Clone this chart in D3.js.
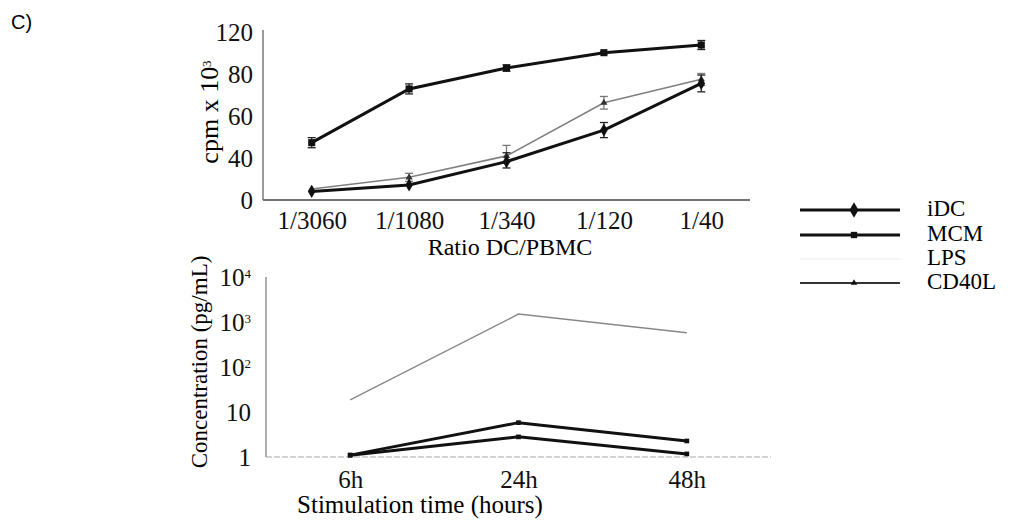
<!DOCTYPE html>
<html>
<head>
<meta charset="utf-8">
<script src="https://cdn.jsdelivr.net/npm/d3@7"></script>
<style>
	body { margin: 0; background: #fff; }
	svg { display: block; font-family: 'Liberation Serif', 'Times New Roman', serif; }
	.tick text { font-family: 'Liberation Serif', 'Times New Roman', serif; font-size: 25px; fill: #111; }
</style>
</head>
<body>
<div id="chart"></div>
<script>
/* global d3 */

// proliferation (top panel)
var ratioLabels = ['1/3060', '1/1080', '1/340', '1/120', '1/40'];
var cpmTicks = [0, 40, 60, 80, 120];
var cpmMCM = [47.3, 72.9, 85.7, 100.3, 107.6];
var cpmMCMErr = [2.4, 2.4, 3, 1, 4.3];
var cpmIDC = [8.1, 14.3, 36.5, 53.3, 75.5];
var cpmIDCErr = [0, 0, 6, 3.6, 4];
var cpmCD40L = [10.5, 21.6, 41, 66.3, 77.5];
var cpmCD40LErr = [0, 3.8, 5, 3, 3];

// cytokine (bottom panel)
var timeLabels = ['6h', '24h', '48h'];
var concTicks = [1, 10, 100, 1000, 10000];
var concCD40L = [18.5, 1500, 577];
var concMCM = [1.1, 5.8, 2.27];
var concIDC = [1.1, 2.8, 1.17];

var legendLabels = ['iDC', 'MCM', 'LPS', 'CD40L'];

(function () {
	'use strict';

	var styles = {
		iDC:   {stroke: '#111', width: 3, marker: d3.symbolDiamond, size: 50},
		MCM:   {stroke: '#111', width: 3, marker: d3.symbolSquare, size: 50},
		LPS:   {stroke: '#f2f2f2', width: 1.5, marker: null, size: 0},
		CD40L: {stroke: '#808080', width: 1.6, marker: d3.symbolTriangle, size: 22}
	};

	var svg = d3.select('#chart').append('svg')
		.attr('width', 1015)
		.attr('height', 524);

	svg.append('text')
		.attr('x', 11).attr('y', 29)
		.style('font-family', "'Liberation Sans', Arial, sans-serif")
		.style('font-size', '20px')
		.text('C)');

	// superscript helper for tick labels / titles
	function powerLabel (sel, base, exp) {
		sel.text(null);
		sel.append('tspan').text(base);
		sel.append('tspan')
			.attr('dy', '-0.55em')
			.style('font-size', '13px')
			.text(exp);
	}

	// ---------- top panel ----------
	var top = {left: 263, right: 750, bottom: 200, step: 42};

	var x1 = d3.scalePoint().domain(ratioLabels).range([top.left, top.right]).padding(0.5);
	var y1 = d3.scaleLinear()
		.domain(cpmTicks)
		.range(cpmTicks.map(function (d, i) { return top.bottom - i * top.step; }));

	var g1 = svg.append('g');

	g1.append('g')
		.attr('transform', 'translate(0,' + top.bottom + ')')
		.call(d3.axisBottom(x1).tickSize(0).tickPadding(11))
		.call(function (a) { a.select('.domain').attr('stroke', '#444').attr('stroke-width', 1.3).attr('d', 'M' + top.left + ',0H' + top.right); });

	g1.append('g')
		.attr('transform', 'translate(' + top.left + ',0)')
		.call(d3.axisLeft(y1).tickValues(cpmTicks).tickSize(0).tickPadding(10))
		.call(function (a) { a.select('.domain').attr('stroke', '#666').attr('stroke-width', 1.3).attr('d', 'M0,' + top.bottom + 'V30'); });

	var cpmSeries = [
		{name: 'CD40L', values: cpmCD40L, err: cpmCD40LErr},
		{name: 'iDC', values: cpmIDC, err: cpmIDCErr},
		{name: 'MCM', values: cpmMCM, err: cpmMCMErr}
	];

	var line1 = d3.line()
		.x(function (d, i) { return x1(ratioLabels[i]); })
		.y(function (d) { return y1(d); });

	cpmSeries.forEach(function (s) {
		var st = styles[s.name];
		var sg = g1.append('g').attr('class', 'series');

		sg.append('path')
			.attr('d', line1(s.values))
			.attr('fill', 'none')
			.attr('stroke', st.stroke)
			.attr('stroke-width', st.width);

		var eb = sg.selectAll('.err')
			.data(s.values.map(function (v, i) { return {x: ratioLabels[i], v: v, e: s.err[i]}; })
				.filter(function (d) { return d.e > 0; }))
			.enter().append('g')
				.attr('class', 'err')
				.attr('stroke', s.name === 'CD40L' ? '#777' : '#222')
				.attr('stroke-width', 1.3);
		eb.append('line')
			.attr('x1', function (d) { return x1(d.x); })
			.attr('x2', function (d) { return x1(d.x); })
			.attr('y1', function (d) { return y1(d.v - d.e); })
			.attr('y2', function (d) { return y1(d.v + d.e); });
		[-1, 1].forEach(function (sgn) {
			eb.append('line')
				.attr('x1', function (d) { return x1(d.x) - 4; })
				.attr('x2', function (d) { return x1(d.x) + 4; })
				.attr('y1', function (d) { return y1(d.v + sgn * d.e); })
				.attr('y2', function (d) { return y1(d.v + sgn * d.e); });
		});

		sg.selectAll('.mark')
			.data(s.values)
			.enter().append('path')
				.attr('class', 'mark')
				.attr('transform', function (d, i) { return 'translate(' + x1(ratioLabels[i]) + ',' + y1(d) + ')'; })
				.attr('d', d3.symbol().type(st.marker).size(st.size))
				.attr('fill', s.name === 'CD40L' ? '#333' : '#111');
	});

	g1.append('text')
		.attr('transform', 'translate(218,112) rotate(-90)')
		.attr('text-anchor', 'middle')
		.style('font-size', '26px')
		.call(powerLabel, 'cpm x 10', '3');

	g1.append('text')
		.attr('x', 510).attr('y', 255)
		.attr('text-anchor', 'middle')
		.style('font-size', '24px')
		.text('Ratio DC/PBMC');

	// ---------- bottom panel ----------
	var bot = {left: 266, right: 771, top: 277, bottom: 457};

	var x2 = d3.scalePoint().domain(timeLabels).range([bot.left, bot.right]).padding(0.5);
	var y2 = d3.scaleLog().domain([concTicks[0], concTicks[concTicks.length - 1]]).range([bot.bottom, bot.top]);

	var g2 = svg.append('g');

	g2.append('g')
		.attr('transform', 'translate(0,' + bot.bottom + ')')
		.call(d3.axisBottom(x2).tickSize(0).tickPadding(13))
		.call(function (a) {
			a.select('.domain')
				.attr('stroke', '#aaa').attr('stroke-width', 1.2)
				.attr('stroke-dasharray', '6,2')
				.attr('d', 'M' + bot.left + ',0H' + bot.right);
		});

	g2.append('g')
		.attr('transform', 'translate(' + bot.left + ',0)')
		.call(d3.axisLeft(y2).tickValues(concTicks).tickSize(0).tickPadding(15))
		.call(function (a) {
			a.select('.domain').attr('stroke', '#777').attr('stroke-width', 1.2).attr('d', 'M0,' + bot.bottom + 'V' + bot.top);
			a.selectAll('.tick text').each(function (d) {
				var exp = Math.round(Math.log10(d));
				if (exp >= 2) {
					d3.select(this).call(powerLabel, '10', String(exp));
				}
			});
		});

	var concSeries = [
		{name: 'CD40L', values: concCD40L},
		{name: 'iDC', values: concIDC},
		{name: 'MCM', values: concMCM}
	];

	var line2 = d3.line()
		.x(function (d, i) { return x2(timeLabels[i]); })
		.y(function (d) { return y2(d); });

	concSeries.forEach(function (s) {
		var st = styles[s.name];
		g2.append('path')
			.attr('d', line2(s.values))
			.attr('fill', 'none')
			.attr('stroke', s.name === 'CD40L' ? '#888' : st.stroke)
			.attr('stroke-width', s.name === 'CD40L' ? 1.4 : st.width);
		if (s.name !== 'CD40L') {
			g2.selectAll(null)
				.data(s.values)
				.enter().append('path')
					.attr('transform', function (d, i) { return 'translate(' + x2(timeLabels[i]) + ',' + y2(d) + ')'; })
					.attr('d', d3.symbol().type(d3.symbolSquare).size(22))
					.attr('fill', '#111');
		}
	});

	g2.append('text')
		.attr('transform', 'translate(207,362) rotate(-90)')
		.attr('text-anchor', 'middle')
		.style('font-size', '23px')
		.text('Concentration (pg/mL)');

	g2.append('text')
		.attr('x', 420).attr('y', 513)
		.attr('text-anchor', 'middle')
		.style('font-size', '25px')
		.text('Stimulation time (hours)');

	// ---------- legend ----------
	var legendY = [208, 233, 257, 281];
	var legend = svg.append('g').attr('class', 'legend');

	var items = legend.selectAll('.item')
		.data(legendLabels)
		.enter().append('g')
			.attr('class', 'item')
			.attr('transform', function (d, i) { return 'translate(800,' + legendY[i] + ')'; });

	items.append('line')
		.attr('x1', 0).attr('x2', 100)
		.attr('y1', 2).attr('y2', 2)
		.attr('stroke', function (d) { return d === 'CD40L' ? '#333' : styles[d].stroke; })
		.attr('stroke-width', function (d) { return d === 'CD40L' ? 1.8 : styles[d].width; });

	items.filter(function (d) { return styles[d].marker; })
		.append('path')
			.attr('transform', 'translate(54,2)')
			.attr('d', function (d) {
				var sz = d === 'iDC' ? 70 : d === 'MCM' ? 40 : 18;
				return d3.symbol().type(styles[d].marker).size(sz)();
			})
			.attr('fill', '#111');

	items.append('text')
		.attr('x', 127)
		.attr('dy', '0.35em')
		.style('font-size', '23px')
		.text(function (d) { return d; });
})();
</script>
</body>
</html>
